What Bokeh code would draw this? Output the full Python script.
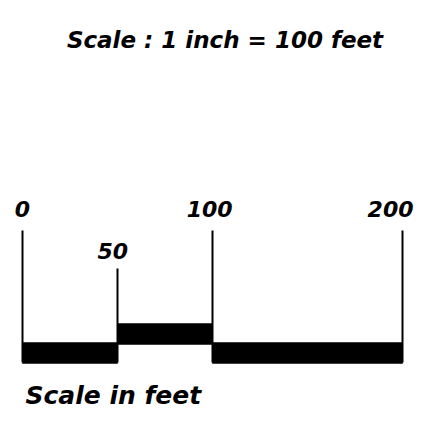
from bokeh.plotting import figure
from bokeh.models import Range1d, ColumnDataSource
from bokeh.core.properties import value
from bokeh.embed import file_html
from bokeh.resources import INLINE

# Data
tick_feet = [0, 50, 100, 200]
tick_labels = ["0", "50", "100", "200"]
seg_start = [0, 50, 100]
seg_end = [50, 100, 200]
title_text = "Scale : 1 inch = 100 feet"
caption_text = "Scale in feet"

W, H = 414, 417
px_per_ft = 1.9
x0_px = 22
p = figure(width=W, height=H, output_backend="svg", toolbar_location=None,
           x_range=Range1d(-x0_px / px_per_ft, (W - x0_px) / px_per_ft),
           y_range=Range1d(H, 0), min_border=0)
p.axis.visible = False
p.grid.visible = False
p.outline_line_color = None
p.background_fill_color = "white"

FONT = value("DejaVu Sans")

# tick lines: major ticks tall, minor (50) short
tick_top = [230 if t != 50 else 268 for t in tick_feet]
tick_bot = [362 for t in tick_feet]
p.segment(x0=tick_feet, y0=tick_top, x1=tick_feet, y1=tick_bot, line_color="black", line_width=2)

# bars: alternating raised segment
seg_top = [342, 323, 342]
seg_bot = [363, 344, 363]
p.quad(left=seg_start, right=seg_end, top=seg_top, bottom=seg_bot, fill_color="black", line_color="black", line_width=0.5)

# tick labels
lab_x = [t - (2.5 if t == 50 else 1.5 if t == 100 else 0) for t in tick_feet]
lab_y = [208 if t != 50 else 250 for t in tick_feet]
lab_align = ["center", "center", "center", "right"]
lab_x[3] = (413 - x0_px) / px_per_ft
src = ColumnDataSource(dict(x=lab_x, y=lab_y, text=tick_labels, align=lab_align))
p.text(x="x", y="y", text="text", source=src, text_font=FONT, text_font_style="bold italic",
       text_font_size="22px", text_align="align", text_baseline="alphabetic", text_color="black")

# title
p.text(x=[(224.5 - x0_px) / px_per_ft], y=[39], text=[title_text], text_font=FONT, text_font_style="bold italic",
       text_font_size="23px", text_align="center", text_baseline="alphabetic", text_color="black")

# caption
p.text(x=[(25 - x0_px) / px_per_ft], y=[395], text=[caption_text], text_font=FONT, text_font_style="bold italic",
       text_font_size="25px", text_align="left", text_baseline="alphabetic", text_color="black")

open("out.html", "w").write(file_html(p, INLINE))
